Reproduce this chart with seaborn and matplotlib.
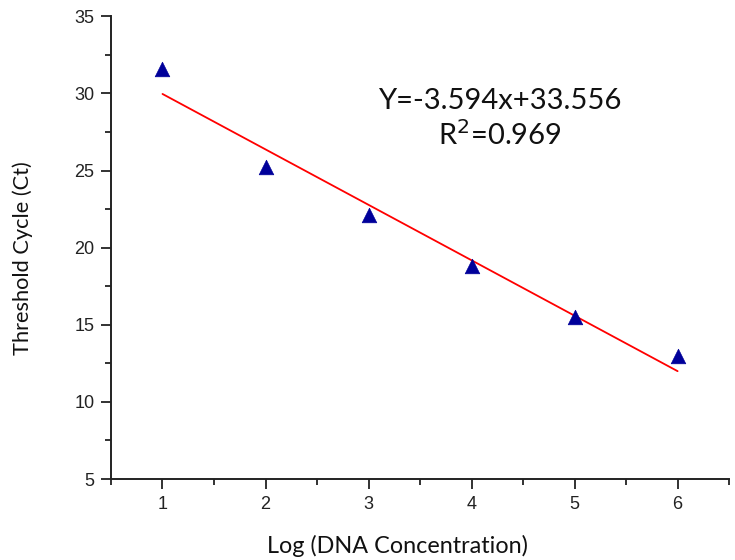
import matplotlib
matplotlib.use("Agg")
import matplotlib.pyplot as plt
from matplotlib.ticker import MultipleLocator
import seaborn as sns
import pandas as pd

# Data
log_conc = [1, 2, 3, 4, 5, 6]
ct_values = [31.6, 25.2, 22.1, 18.8, 15.5, 13.0]
fit_slope = -3.594
fit_intercept = 33.556
fit_x = [1, 6]

sns.set_theme(style="ticks")
plt.rcParams['font.family'] = ['Liberation Sans', 'DejaVu Sans']

fig = plt.figure(figsize=(7.35, 5.6), dpi=100)
ax = fig.add_axes([0.151, 0.1446, 0.841, 0.8264])

df = pd.DataFrame({"x": log_conc, "y": ct_values})
fit_df = pd.DataFrame({"x": fit_x,
                       "y": [fit_slope * v + fit_intercept for v in fit_x]})

sns.lineplot(data=fit_df, x="x", y="y", ax=ax, color="#ff0000", linewidth=1.3)
sns.scatterplot(data=df, x="x", y="y", ax=ax, marker="^", s=110,
                color="#00009a", edgecolor="#00009a", linewidth=0.5, zorder=3)

ax.set_xlim(0.5, 6.5)
ax.set_ylim(5, 35)
ax.xaxis.set_major_locator(MultipleLocator(1))
ax.xaxis.set_minor_locator(MultipleLocator(0.5))
ax.yaxis.set_major_locator(MultipleLocator(5))
ax.yaxis.set_minor_locator(MultipleLocator(2.5))

for s in ["top", "right"]:
    ax.spines[s].set_visible(False)
for s in ["left", "bottom"]:
    ax.spines[s].set_linewidth(1.4)
    ax.spines[s].set_color("#222222")

ax.tick_params(which="major", direction="out", length=7.5, width=1.3,
               colors="#222222", labelsize=13, labelcolor="#222222", pad=4.5)
ax.tick_params(which="minor", direction="out", length=4, width=1.3,
               colors="#222222")

ax.set_xlabel("Log (DNA Concentration)", fontsize=16.8, family=["Lato", "DejaVu Sans"],
              labelpad=16, color="#111111")
ax.set_ylabel("Threshold Cycle (Ct)", fontsize=15.7, family=["Lato", "DejaVu Sans"],
              labelpad=30, color="#111111")
ax.xaxis.label.set_x(0.463)
ax.yaxis.label.set_y(0.478)

ax.text(4.27, 29.5, "Y=-3.594x+33.556", fontsize=21, ha="center", va="center",
        family=["Lato", "DejaVu Sans"], color="#111111")
ax.text(4.27, 27.3, r"R$^{2}$=0.969", fontsize=21, ha="center", va="center",
        family=["Lato", "DejaVu Sans"], color="#111111")

fig.savefig("out.png", dpi=100)
